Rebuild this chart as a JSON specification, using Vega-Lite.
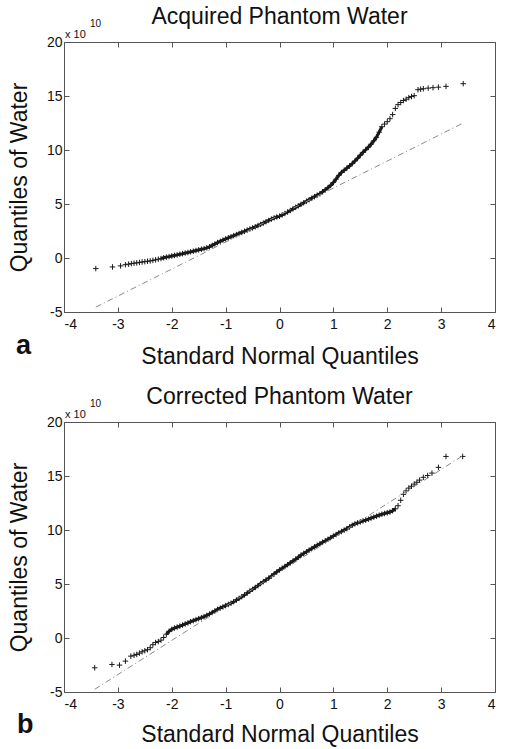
{
  "$schema": "https://vega.github.io/schema/vega-lite/v6.json",
  "background": "white",
  "padding": {"left": 7, "top": 5, "right": 5, "bottom": 3},
  "spacing": 16,
  "config": {
    "font": "Liberation Sans",
    "view": {"stroke": "#555", "strokeWidth": 1},
    "axis": {
      "grid": false, "domain": false, "tickColor": "#555", "tickSize": -5,
      "labelFont": "Liberation Sans", "labelFontSize": 14, "labelColor": "#111",
      "titleFont": "Liberation Sans", "titleFontSize": 23, "titleFontWeight": "normal", "titleColor": "#111"
    },
    "title": {"font": "Liberation Sans", "fontSize": 23, "fontWeight": "normal", "color": "#111", "frame": "group", "offset": -10}
  },
  "datasets": {
    "acquired": [
      {"z": -3.41, "q": -0.98}, {"z": -3.10, "q": -0.83}, {"z": -2.95, "q": -0.73}, {"z": -2.86, "q": -0.62},
      {"z": -2.80, "q": -0.57}, {"z": -2.75, "q": -0.52}, {"z": -2.70, "q": -0.48}, {"z": -2.65, "q": -0.45},
      {"z": -2.60, "q": -0.41}, {"z": -2.55, "q": -0.37}, {"z": -2.50, "q": -0.34}, {"z": -2.45, "q": -0.30},
      {"z": -2.40, "q": -0.27}, {"z": -2.35, "q": -0.22}, {"z": -2.30, "q": -0.17}, {"z": -2.25, "q": -0.11},
      {"z": -2.20, "q": -0.05}, {"z": -2.15, "q": 0.02}, {"z": -2.10, "q": 0.08}, {"z": -2.05, "q": 0.13},
      {"z": -2.00, "q": 0.19}, {"z": -1.95, "q": 0.24}, {"z": -1.90, "q": 0.29}, {"z": -1.85, "q": 0.35},
      {"z": -1.80, "q": 0.40}, {"z": -1.75, "q": 0.46}, {"z": -1.70, "q": 0.51}, {"z": -1.65, "q": 0.57},
      {"z": -1.60, "q": 0.63}, {"z": -1.55, "q": 0.69}, {"z": -1.50, "q": 0.75}, {"z": -1.45, "q": 0.81},
      {"z": -1.40, "q": 0.87}, {"z": -1.35, "q": 0.94}, {"z": -1.30, "q": 1.04}, {"z": -1.25, "q": 1.17},
      {"z": -1.20, "q": 1.30}, {"z": -1.15, "q": 1.43}, {"z": -1.10, "q": 1.55}, {"z": -1.05, "q": 1.66},
      {"z": -1.00, "q": 1.77}, {"z": -0.95, "q": 1.87}, {"z": -0.90, "q": 1.97}, {"z": -0.85, "q": 2.07},
      {"z": -0.80, "q": 2.17}, {"z": -0.75, "q": 2.27}, {"z": -0.70, "q": 2.37}, {"z": -0.65, "q": 2.47},
      {"z": -0.60, "q": 2.58}, {"z": -0.55, "q": 2.68}, {"z": -0.50, "q": 2.78}, {"z": -0.45, "q": 2.89},
      {"z": -0.40, "q": 3.00}, {"z": -0.35, "q": 3.11}, {"z": -0.30, "q": 3.23}, {"z": -0.25, "q": 3.36},
      {"z": -0.20, "q": 3.48}, {"z": -0.15, "q": 3.60}, {"z": -0.10, "q": 3.71}, {"z": -0.05, "q": 3.80},
      {"z": 0.00, "q": 3.87}, {"z": 0.05, "q": 3.99}, {"z": 0.10, "q": 4.12}, {"z": 0.15, "q": 4.26},
      {"z": 0.20, "q": 4.40}, {"z": 0.25, "q": 4.55}, {"z": 0.30, "q": 4.69}, {"z": 0.35, "q": 4.83},
      {"z": 0.40, "q": 4.97}, {"z": 0.45, "q": 5.11}, {"z": 0.50, "q": 5.26}, {"z": 0.55, "q": 5.40},
      {"z": 0.60, "q": 5.54}, {"z": 0.65, "q": 5.68}, {"z": 0.70, "q": 5.82}, {"z": 0.75, "q": 5.95},
      {"z": 0.80, "q": 6.13}, {"z": 0.85, "q": 6.32}, {"z": 0.90, "q": 6.51}, {"z": 0.95, "q": 6.73},
      {"z": 1.00, "q": 7.00}, {"z": 1.05, "q": 7.30}, {"z": 1.10, "q": 7.65}, {"z": 1.15, "q": 7.92},
      {"z": 1.20, "q": 8.12}, {"z": 1.25, "q": 8.32}, {"z": 1.30, "q": 8.52}, {"z": 1.35, "q": 8.74},
      {"z": 1.40, "q": 8.98}, {"z": 1.45, "q": 9.24}, {"z": 1.50, "q": 9.52}, {"z": 1.55, "q": 9.78},
      {"z": 1.60, "q": 10.02}, {"z": 1.65, "q": 10.26}, {"z": 1.70, "q": 10.54}, {"z": 1.75, "q": 10.85},
      {"z": 1.80, "q": 11.18}, {"z": 1.85, "q": 11.65}, {"z": 1.90, "q": 12.15}, {"z": 1.95, "q": 12.40},
      {"z": 2.00, "q": 12.62}, {"z": 2.05, "q": 12.90}, {"z": 2.10, "q": 13.28}, {"z": 2.15, "q": 13.85},
      {"z": 2.20, "q": 14.20}, {"z": 2.25, "q": 14.40}, {"z": 2.30, "q": 14.58}, {"z": 2.35, "q": 14.70},
      {"z": 2.40, "q": 14.85}, {"z": 2.45, "q": 14.95}, {"z": 2.50, "q": 15.03}, {"z": 2.57, "q": 15.58},
      {"z": 2.62, "q": 15.63}, {"z": 2.67, "q": 15.67}, {"z": 2.76, "q": 15.73}, {"z": 2.85, "q": 15.77},
      {"z": 2.95, "q": 15.82}, {"z": 3.09, "q": 15.89}, {"z": 3.41, "q": 16.14}
    ],
    "acquiredFit": [{"z": -3.41, "q": -4.55}, {"z": 3.41, "q": 12.5}],
    "corrected": [
      {"z": -3.43, "q": -2.76}, {"z": -3.11, "q": -2.45}, {"z": -2.97, "q": -2.51}, {"z": -2.86, "q": -2.14},
      {"z": -2.76, "q": -1.68}, {"z": -2.70, "q": -1.60}, {"z": -2.65, "q": -1.52}, {"z": -2.60, "q": -1.40},
      {"z": -2.55, "q": -1.28}, {"z": -2.50, "q": -1.18}, {"z": -2.45, "q": -1.08}, {"z": -2.40, "q": -0.90},
      {"z": -2.35, "q": -0.62}, {"z": -2.30, "q": -0.42}, {"z": -2.25, "q": -0.33}, {"z": -2.20, "q": -0.20},
      {"z": -2.15, "q": 0.05}, {"z": -2.10, "q": 0.35}, {"z": -2.05, "q": 0.62}, {"z": -2.00, "q": 0.80},
      {"z": -1.95, "q": 0.92}, {"z": -1.90, "q": 1.01}, {"z": -1.85, "q": 1.10}, {"z": -1.80, "q": 1.20},
      {"z": -1.75, "q": 1.30}, {"z": -1.70, "q": 1.40}, {"z": -1.65, "q": 1.51}, {"z": -1.60, "q": 1.60},
      {"z": -1.55, "q": 1.70}, {"z": -1.50, "q": 1.79}, {"z": -1.45, "q": 1.88}, {"z": -1.40, "q": 1.98},
      {"z": -1.35, "q": 2.09}, {"z": -1.30, "q": 2.22}, {"z": -1.25, "q": 2.36}, {"z": -1.20, "q": 2.50},
      {"z": -1.15, "q": 2.65}, {"z": -1.10, "q": 2.77}, {"z": -1.05, "q": 2.88}, {"z": -1.00, "q": 3.00},
      {"z": -0.95, "q": 3.11}, {"z": -0.90, "q": 3.22}, {"z": -0.85, "q": 3.36}, {"z": -0.80, "q": 3.51},
      {"z": -0.75, "q": 3.67}, {"z": -0.70, "q": 3.82}, {"z": -0.65, "q": 3.99}, {"z": -0.60, "q": 4.16},
      {"z": -0.55, "q": 4.34}, {"z": -0.50, "q": 4.51}, {"z": -0.45, "q": 4.68}, {"z": -0.40, "q": 4.85},
      {"z": -0.35, "q": 5.04}, {"z": -0.30, "q": 5.22}, {"z": -0.25, "q": 5.38}, {"z": -0.20, "q": 5.54},
      {"z": -0.15, "q": 5.73}, {"z": -0.10, "q": 5.93}, {"z": -0.05, "q": 6.12}, {"z": 0.00, "q": 6.30},
      {"z": 0.05, "q": 6.46}, {"z": 0.10, "q": 6.62}, {"z": 0.15, "q": 6.79}, {"z": 0.20, "q": 6.96},
      {"z": 0.25, "q": 7.13}, {"z": 0.30, "q": 7.30}, {"z": 0.35, "q": 7.48}, {"z": 0.40, "q": 7.68},
      {"z": 0.45, "q": 7.83}, {"z": 0.50, "q": 7.98}, {"z": 0.55, "q": 8.14}, {"z": 0.60, "q": 8.29},
      {"z": 0.65, "q": 8.44}, {"z": 0.70, "q": 8.59}, {"z": 0.75, "q": 8.72}, {"z": 0.80, "q": 8.87},
      {"z": 0.85, "q": 9.00}, {"z": 0.90, "q": 9.14}, {"z": 0.95, "q": 9.29}, {"z": 1.00, "q": 9.44},
      {"z": 1.05, "q": 9.58}, {"z": 1.10, "q": 9.73}, {"z": 1.15, "q": 9.86}, {"z": 1.20, "q": 9.99},
      {"z": 1.25, "q": 10.13}, {"z": 1.30, "q": 10.28}, {"z": 1.35, "q": 10.44}, {"z": 1.40, "q": 10.57},
      {"z": 1.45, "q": 10.66}, {"z": 1.50, "q": 10.75}, {"z": 1.55, "q": 10.84}, {"z": 1.60, "q": 10.92},
      {"z": 1.65, "q": 11.00}, {"z": 1.70, "q": 11.10}, {"z": 1.75, "q": 11.19}, {"z": 1.80, "q": 11.28},
      {"z": 1.85, "q": 11.37}, {"z": 1.90, "q": 11.46}, {"z": 1.95, "q": 11.53}, {"z": 2.00, "q": 11.60},
      {"z": 2.05, "q": 11.66}, {"z": 2.10, "q": 11.78}, {"z": 2.15, "q": 11.96}, {"z": 2.20, "q": 12.25},
      {"z": 2.25, "q": 12.75}, {"z": 2.30, "q": 13.30}, {"z": 2.35, "q": 13.62}, {"z": 2.40, "q": 13.88},
      {"z": 2.45, "q": 14.05}, {"z": 2.50, "q": 14.25}, {"z": 2.55, "q": 14.42}, {"z": 2.60, "q": 14.62},
      {"z": 2.67, "q": 14.88}, {"z": 2.75, "q": 15.05}, {"z": 2.83, "q": 15.27}, {"z": 2.95, "q": 15.80},
      {"z": 3.09, "q": 16.81}, {"z": 3.40, "q": 16.81}
    ],
    "correctedFit": [{"z": -3.43, "q": -4.75}, {"z": 3.40, "q": 16.87}]
  },
  "vconcat": [
    {
      "title": {"text": "Acquired Phantom Water"},
      "width": 431,
      "height": 270,
      "resolve": {"axis": {"x": "independent", "y": "independent"}},
      "layer": [
        {
          "data": {"name": "acquired"},
          "transform": [{"filter": "datum.z > -2.25 && datum.z < 1.92"}],
          "mark": {"type": "line", "stroke": "#1a1a1a", "strokeWidth": 3},
          "encoding": {
            "x": {"field": "z", "type": "quantitative", "scale": {"domain": [-4, 4], "nice": false, "zero": false},
                  "axis": {"orient": "bottom", "title": "Standard Normal Quantiles", "values": [-4, -3, -2, -1, 0, 1, 2, 3, 4], "labelExpr": "'' + datum.value", "labelPadding": 10, "titlePadding": 14}},
            "y": {"field": "q", "type": "quantitative", "scale": {"domain": [-5, 20], "nice": false, "zero": false},
                  "axis": {"orient": "left", "title": "Quantiles of Water", "values": [-5, 0, 5, 10, 15, 20], "labelExpr": "'' + datum.value", "labelPadding": 7, "titlePadding": 15}}
          }
        },
        {
          "data": {"name": "acquired"},
          "mark": {"type": "point", "shape": "M-1,0L1,0M0,-1L0,1", "filled": false, "stroke": "#1a1a1a", "strokeWidth": 1, "size": 30, "opacity": 1},
          "encoding": {
            "x": {"field": "z", "type": "quantitative", "axis": null},
            "y": {"field": "q", "type": "quantitative", "axis": null}
          }
        },
        {
          "data": {"name": "acquiredFit"},
          "mark": {"type": "line", "stroke": "#8a8a8a", "strokeWidth": 1, "strokeDash": [6, 3, 1, 3]},
          "encoding": {
            "x": {"field": "z", "type": "quantitative", "axis": {"orient": "top", "labels": false, "title": null, "values": [-4, -3, -2, -1, 0, 1, 2, 3, 4]}},
            "y": {"field": "q", "type": "quantitative", "axis": {"orient": "right", "labels": false, "title": null, "values": [-5, 0, 5, 10, 15, 20]}}
          }
        },
        {
          "data": {"values": [{"label": "x 10"}]},
          "mark": {"type": "text", "align": "left", "baseline": "alphabetic", "dx": 1, "dy": -4, "fontSize": 11, "color": "#111"},
          "encoding": {"x": {"datum": -4, "type": "quantitative", "axis": null}, "y": {"datum": 20, "type": "quantitative", "axis": null}, "text": {"field": "label"}}
        },
        {
          "data": {"values": [{"label": "10"}]},
          "mark": {"type": "text", "align": "left", "baseline": "alphabetic", "dx": 26, "dy": -15, "fontSize": 10, "color": "#111"},
          "encoding": {"x": {"datum": -4, "type": "quantitative", "axis": null}, "y": {"datum": 20, "type": "quantitative", "axis": null}, "text": {"field": "label"}}
        },
        {
          "data": {"values": [{"label": "a"}]},
          "mark": {"type": "text", "align": "left", "baseline": "alphabetic", "dx": -48, "dy": 42, "fontSize": 27, "fontWeight": "bold", "color": "#111"},
          "encoding": {"x": {"datum": -4, "type": "quantitative", "axis": null}, "y": {"datum": -5, "type": "quantitative", "axis": null}, "text": {"field": "label"}}
        }
      ]
    },
    {
      "title": {"text": "Corrected Phantom Water"},
      "width": 431,
      "height": 270,
      "resolve": {"axis": {"x": "independent", "y": "independent"}},
      "layer": [
        {
          "data": {"name": "corrected"},
          "transform": [{"filter": "datum.z > -2.12 && datum.z < 2.17"}],
          "mark": {"type": "line", "stroke": "#1a1a1a", "strokeWidth": 3},
          "encoding": {
            "x": {"field": "z", "type": "quantitative", "scale": {"domain": [-4, 4], "nice": false, "zero": false},
                  "axis": {"orient": "bottom", "title": "Standard Normal Quantiles", "values": [-4, -3, -2, -1, 0, 1, 2, 3, 4], "labelExpr": "'' + datum.value", "labelPadding": 10, "titlePadding": 12}},
            "y": {"field": "q", "type": "quantitative", "scale": {"domain": [-5, 20], "nice": false, "zero": false},
                  "axis": {"orient": "left", "title": "Quantiles of Water", "values": [-5, 0, 5, 10, 15, 20], "labelExpr": "'' + datum.value", "labelPadding": 7, "titlePadding": 15}}
          }
        },
        {
          "data": {"name": "corrected"},
          "mark": {"type": "point", "shape": "M-1,0L1,0M0,-1L0,1", "filled": false, "stroke": "#1a1a1a", "strokeWidth": 1, "size": 30, "opacity": 1},
          "encoding": {
            "x": {"field": "z", "type": "quantitative", "axis": null},
            "y": {"field": "q", "type": "quantitative", "axis": null}
          }
        },
        {
          "data": {"name": "correctedFit"},
          "mark": {"type": "line", "stroke": "#8a8a8a", "strokeWidth": 1, "strokeDash": [6, 3, 1, 3]},
          "encoding": {
            "x": {"field": "z", "type": "quantitative", "axis": {"orient": "top", "labels": false, "title": null, "values": [-4, -3, -2, -1, 0, 1, 2, 3, 4]}},
            "y": {"field": "q", "type": "quantitative", "axis": {"orient": "right", "labels": false, "title": null, "values": [-5, 0, 5, 10, 15, 20]}}
          }
        },
        {
          "data": {"values": [{"label": "x 10"}]},
          "mark": {"type": "text", "align": "left", "baseline": "alphabetic", "dx": 1, "dy": -4, "fontSize": 11, "color": "#111"},
          "encoding": {"x": {"datum": -4, "type": "quantitative", "axis": null}, "y": {"datum": 20, "type": "quantitative", "axis": null}, "text": {"field": "label"}}
        },
        {
          "data": {"values": [{"label": "10"}]},
          "mark": {"type": "text", "align": "left", "baseline": "alphabetic", "dx": 26, "dy": -15, "fontSize": 10, "color": "#111"},
          "encoding": {"x": {"datum": -4, "type": "quantitative", "axis": null}, "y": {"datum": 20, "type": "quantitative", "axis": null}, "text": {"field": "label"}}
        },
        {
          "data": {"values": [{"label": "b"}]},
          "mark": {"type": "text", "align": "left", "baseline": "alphabetic", "dx": -47, "dy": 41, "fontSize": 27, "fontWeight": "bold", "color": "#111"},
          "encoding": {"x": {"datum": -4, "type": "quantitative", "axis": null}, "y": {"datum": -5, "type": "quantitative", "axis": null}, "text": {"field": "label"}}
        }
      ]
    }
  ]
}
